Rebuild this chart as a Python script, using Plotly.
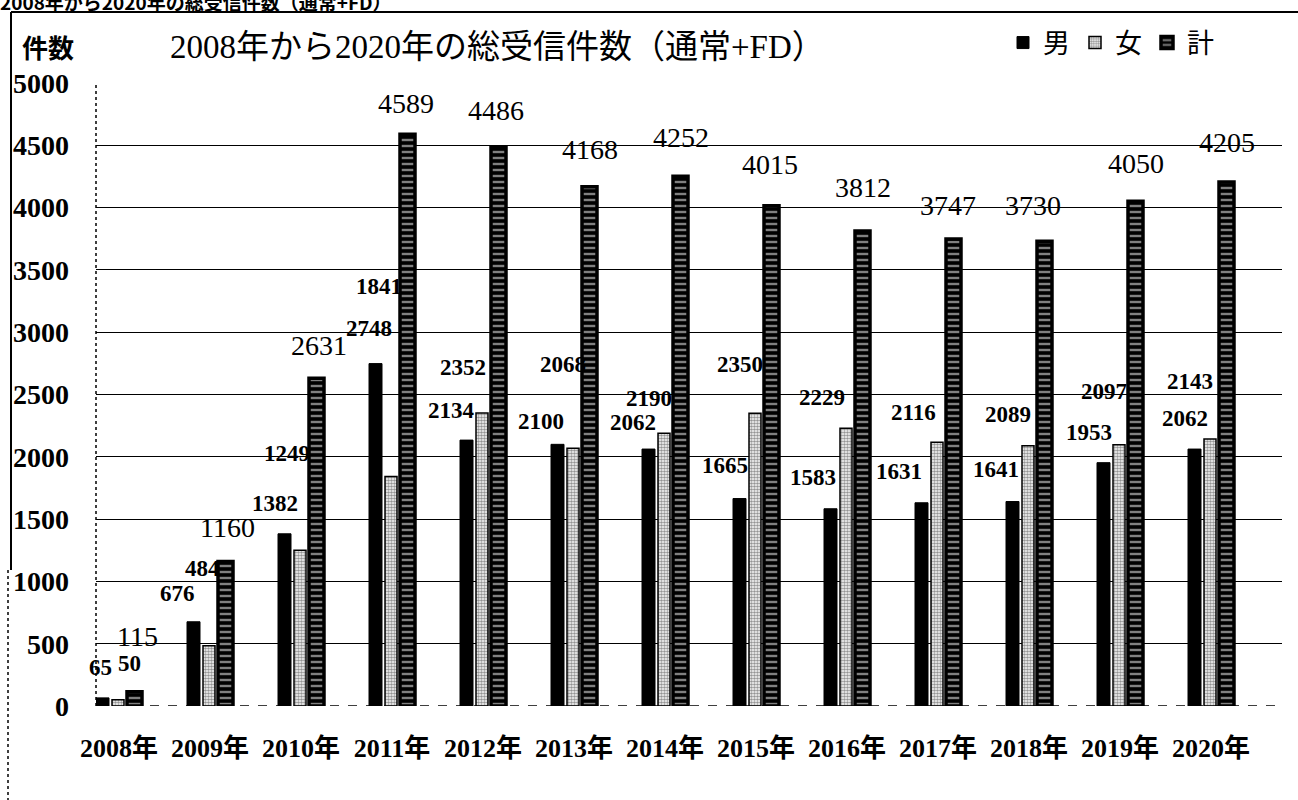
import plotly.graph_objects as go

years = ["2008年", "2009年", "2010年", "2011年", "2012年", "2013年", "2014年",
         "2015年", "2016年", "2017年", "2018年", "2019年", "2020年"]
male = [65, 676, 1382, 2748, 2134, 2100, 2062, 1665, 1583, 1631, 1641, 1953, 2062]
female = [50, 484, 1249, 1841, 2352, 2068, 2190, 2350, 2229, 2116, 2089, 2097, 2143]
total = [115, 1160, 2631, 4589, 4486, 4168, 4252, 4015, 3812, 3747, 3730, 4050, 4205]
y_ticks = [0, 500, 1000, 1500, 2000, 2500, 3000, 3500, 4000, 4500, 5000]

# label placement (pixel shifts from bar top/centre)
male_dx = [-2, -16, -10, -7, -15, -17, -16, -15, -18, -23, -17, -15, -10]
male_dy = [30, 28, 30, 35, 30, 23, 27, 33, 31, 31, 32, 30, 31]
female_dx = [11, -7, -13, -12, -19, -10, -15, -15, -24, -24, -20, -15, -20]
female_dy = [36, 77, 97, 190, 45, 84, 35, 49, 31, 30, 31, 53, 57]
total_dx = [3, 2, 2, -2, -3, 0, 0, -2, 0, -6, -12, 0, 0]
total_dy = [55, 34, 33, 31, 37, 37, 39, 41, 44, 34, 36, 38, 40]

SERIF = "Liberation Serif, DejaVu Serif, Noto Sans CJK JP"
CJK = "Noto Sans CJK JP"

W, H = 1298, 800
L, R, T, B = 96, 16, 83, 94
PW, PH = W - L - R, H - T - B
PX_PER_CAT = 91.0
r0 = -(119 - L) / PX_PER_CAT
r1 = r0 + PW / PX_PER_CAT


def px_x(px):
    return (px - L) / PW


def px_y(py):
    return (H - B - py) / PH


fig = go.Figure()
fig.add_trace(go.Bar(
    x=years, y=male, name="男",
    offset=-23 / PX_PER_CAT, width=13 / PX_PER_CAT,
    marker=dict(color="black", line=dict(color="black", width=1)),
))
fig.add_trace(go.Bar(
    x=years, y=female, name="女",
    offset=-7 / PX_PER_CAT, width=12 / PX_PER_CAT,
    marker=dict(color="white", line=dict(color="black", width=1.5),
                pattern=dict(shape=".", fgcolor="#2a2a2a", bgcolor="white",
                             size=3, solidity=0.6)),
))
fig.add_trace(go.Bar(
    x=years, y=total, name="計",
    offset=8 / PX_PER_CAT, width=15 / PX_PER_CAT,
    marker=dict(color="black", line=dict(color="black", width=3.5),
                pattern=dict(shape="-", fgcolor="white", bgcolor="black",
                             size=6, solidity=0.4)),
))

annotations = []
for i, yr in enumerate(years):
    annotations.append(dict(x=yr, y=male[i], xref="x", yref="y", text=str(male[i]),
                            showarrow=False, xanchor="center", yanchor="middle",
                            xshift=-16.5 + male_dx[i], yshift=male_dy[i],
                            font=dict(family=SERIF, size=23, color="black", weight="bold")))
    annotations.append(dict(x=yr, y=female[i], xref="x", yref="y", text=str(female[i]),
                            showarrow=False, xanchor="center", yanchor="middle",
                            xshift=-1 + female_dx[i], yshift=female_dy[i],
                            font=dict(family=SERIF, size=23, color="black", weight="bold")))
    annotations.append(dict(x=yr, y=total[i], xref="x", yref="y", text=str(total[i]),
                            showarrow=False, xanchor="center", yanchor="middle",
                            xshift=15.5 + total_dx[i], yshift=total_dy[i],
                            font=dict(family=SERIF, size=28, color="black")))

# titles
annotations.append(dict(x=px_x(168), y=px_y(47), xref="paper", yref="paper",
                        text="2008年から2020年の総受信件数（通常+FD）", showarrow=False,
                        xanchor="left", yanchor="middle",
                        font=dict(family=SERIF, size=33, color="black")))
annotations.append(dict(x=px_x(20), y=px_y(46), xref="paper", yref="paper",
                        text="件数", showarrow=False, xanchor="left", yanchor="middle",
                        font=dict(family=CJK, size=26, color="black", weight="bold")))
annotations.append(dict(x=px_x(-2), y=px_y(1), xref="paper", yref="paper",
                        text="2008年から2020年の総受信件数（通常+FD）", showarrow=False,
                        xanchor="left", yanchor="middle",
                        font=dict(family=CJK, size=19, color="black", weight="bold")))

shapes = [
    # outer frame
    dict(type="line", xref="paper", yref="paper", x0=px_x(11), x1=px_x(1298),
         y0=px_y(12), y1=px_y(12), line=dict(color="black", width=2)),
    dict(type="line", xref="paper", yref="paper", x0=px_x(11), x1=px_x(11),
         y0=px_y(12), y1=px_y(570), line=dict(color="black", width=2)),
    dict(type="line", xref="paper", yref="paper", x0=px_x(8), x1=px_x(8),
         y0=px_y(570), y1=px_y(800), line=dict(color="black", width=1.5, dash="dot")),
    # y axis line and baseline
    dict(type="line", xref="paper", yref="paper", x0=0, x1=0, y0=0, y1=1,
         line=dict(color="black", width=1.5, dash="dot"), layer="above"),
    dict(type="line", xref="paper", yref="y", x0=0, x1=1, y0=0, y1=0,
         line=dict(color="black", width=1.5, dash="dash"), layer="below"),
]

fig.update_layout(
    width=W, height=H,
    margin=dict(l=L, r=R, t=T, b=B, autoexpand=False),
    paper_bgcolor="white", plot_bgcolor="white",
    barmode="overlay",
    showlegend=True,
    legend=dict(orientation="h", x=px_x(1003), y=px_y(43), xanchor="left", yanchor="middle",
                font=dict(family=CJK, size=27, color="black"), bgcolor="rgba(0,0,0,0)",
                itemwidth=30, traceorder="normal"),
    annotations=annotations,
    shapes=shapes,
    xaxis=dict(type="category", range=[r0, r1], showgrid=False, zeroline=False,
               showline=False, ticks="", ticklabelstandoff=24,
               tickfont=dict(family=SERIF, size=26, color="black", weight="bold")),
    yaxis=dict(range=[0, 5000], tickvals=y_ticks, ticktext=[str(v) for v in y_ticks],
               showgrid=True, gridcolor="black", gridwidth=1.3, zeroline=False,
               showline=False, ticks="", ticklabelstandoff=26,
               tickfont=dict(family=SERIF, size=28, color="black", weight="bold")),
)

fig.write_html("out.html",
               config={"displayModeBar": False},
               post_script="document.body.style.margin='0';document.body.style.overflow='hidden';")
